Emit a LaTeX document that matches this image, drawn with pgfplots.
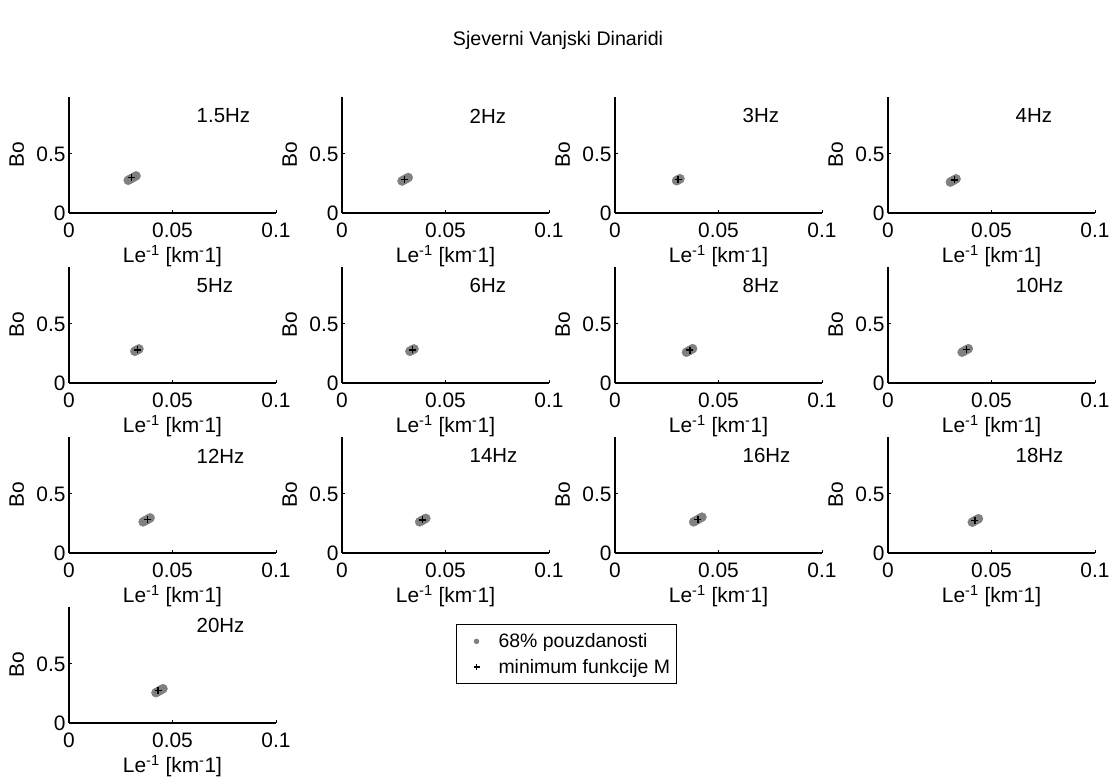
\documentclass[border=0pt]{standalone}
\usepackage{fontspec}
\setmainfont{Liberation Sans}
\usepackage{pgfplots}
\pgfplotsset{compat=1.18}
\definecolor{cl}{rgb}{0.50,0.50,0.50}
\newcommand{\fsz}{\fontsize{21}{24}\selectfont}
\newcommand{\fhz}{\fontsize{20.5}{24}\selectfont}
\pgfplotsset{
  panel/.style={
    scale only axis, width=207bp, height=116bp,
    anchor=south west,
    xmin=0, xmax=0.1, ymin=0, ymax=0.98,
    axis x line*=bottom, axis y line*=left,
    axis line style={line width=1.3bp, -},
    xtick={0,0.05,0.1}, xticklabels={0,0.05,0.1},
    ytick={0,0.5}, yticklabels={0,0.5},
    tick align=inside, major tick length=3bp,
    tick style={line width=0.8bp, black},
    tick label style={font=\fsz},
    xticklabel style={yshift=-6bp},
    label style={font=\fsz},
    xlabel={Le\textsuperscript{-1} [km\textsuperscript{-}1]},
    xlabel style={at={(axis description cs:0.5,0)}, anchor=center, yshift=-43bp},
    ylabel={Bo},
    ylabel style={at={(axis description cs:-0.252,0.5)}, anchor=center},
    clip=false,
  },
  cloud/.style={only marks, mark=*, mark size=4.5bp, mark options={fill=cl, draw=cl}, forget plot},
  minm/.style={only marks, mark=+, mark size=3.5bp, mark options={line width=1.4bp, black}, forget plot},
}
\newcommand{\panel}[5]{%
\begin{axis}[panel, at={(#1bp,-#2bp)}]
\addplot[cloud] coordinates {#4};
\addplot[minm] coordinates {#5};
\node[anchor=west, font=\fhz] at (axis cs:0.06,0.82) {#3};
\end{axis}}
\begin{document}
\begin{tikzpicture}
\useasboundingbox (0,0) rectangle (1115bp,-778bp);
\node[font=\fontsize{19.7}{23}\selectfont] at (558bp,-40bp) {Sjeverni Vanjski Dinaridi};
\panel{69}{213}{1.5Hz}{(0.0286,0.276) (0.02955,0.2855) (0.0305,0.295) (0.03145,0.3045) (0.0324,0.314)}{(0.0302,0.298)}
\panel{342}{213}{2Hz}{(0.0290,0.270) (0.02975,0.2775) (0.0305,0.285) (0.03125,0.2925) (0.0320,0.300)}{(0.0303,0.285)}
\panel{615}{213}{3Hz}{(0.0297,0.273) (0.0301,0.277) (0.0305,0.281) (0.03095,0.2855) (0.0314,0.290)}{(0.0305,0.283)}
\panel{888}{213}{4Hz}{(0.0301,0.261) (0.0308,0.268) (0.0315,0.275) (0.0322,0.282) (0.0329,0.289)}{(0.0320,0.280)}
\panel{69}{383}{5Hz}{(0.0318,0.268) (0.0323,0.273) (0.0328,0.278) (0.0333,0.283) (0.0338,0.288)}{(0.0330,0.280)}
\panel{342}{383}{6Hz}{(0.0328,0.268) (0.0333,0.273) (0.0338,0.278) (0.0343,0.283) (0.0348,0.288)}{(0.0340,0.280)}
\panel{615}{383}{8Hz}{(0.0345,0.260) (0.03525,0.2675) (0.0360,0.275) (0.03675,0.2825) (0.0375,0.290)}{(0.0362,0.278)}
\panel{888}{383}{10Hz}{(0.0358,0.260) (0.03655,0.2675) (0.0373,0.275) (0.03805,0.2825) (0.0388,0.290)}{(0.0378,0.282)}
\panel{69}{553}{12Hz}{(0.0358,0.263) (0.03665,0.2715) (0.0375,0.280) (0.03835,0.2885) (0.0392,0.297)}{(0.0378,0.282)}
\panel{342}{553}{14Hz}{(0.0375,0.263) (0.03825,0.2705) (0.0390,0.278) (0.03975,0.2855) (0.0405,0.293)}{(0.0388,0.280)}
\panel{615}{553}{16Hz}{(0.0380,0.263) (0.0390,0.273) (0.0400,0.283) (0.0410,0.293) (0.0420,0.303)}{(0.0400,0.285)}
\panel{888}{553}{18Hz}{(0.0407,0.260) (0.04145,0.2675) (0.0422,0.275) (0.04295,0.2825) (0.0437,0.290)}{(0.0420,0.275)}
\begin{axis}[panel, at={(69bp,-723bp)},
  legend style={at={(axis description cs:1.8696,0.853)}, anchor=north west,
    draw=black, line width=1bp, font=\fontsize{19.5}{23}\selectfont,
    row sep=6bp, inner xsep=3bp, inner ysep=7bp,
    nodes={inner xsep=3bp}},
  legend image code/.code={\path[draw=none, fill=none] (0bp,0bp) -- (36bp,0bp);
    \draw[#1] plot coordinates {(17bp,0bp)};},
  legend cell align=left]
\addlegendimage{only marks, mark=*, mark size=2.2bp, mark options={fill=cl, draw=cl}}
\addlegendentry{68\% pouzdanosti}
\addlegendimage{only marks, mark=+, mark size=3bp, mark options={line width=1.5bp, black}}
\addlegendentry{minimum funkcije M}
\addplot[cloud] coordinates {(0.0420,0.256) (0.04285,0.2645) (0.0437,0.273) (0.04455,0.2815) (0.0454,0.290)};
\addplot[minm] coordinates {(0.0430,0.273)};
\node[anchor=west, font=\fhz] at (axis cs:0.06,0.82) {20Hz};
\end{axis}
\end{tikzpicture}
\end{document}
